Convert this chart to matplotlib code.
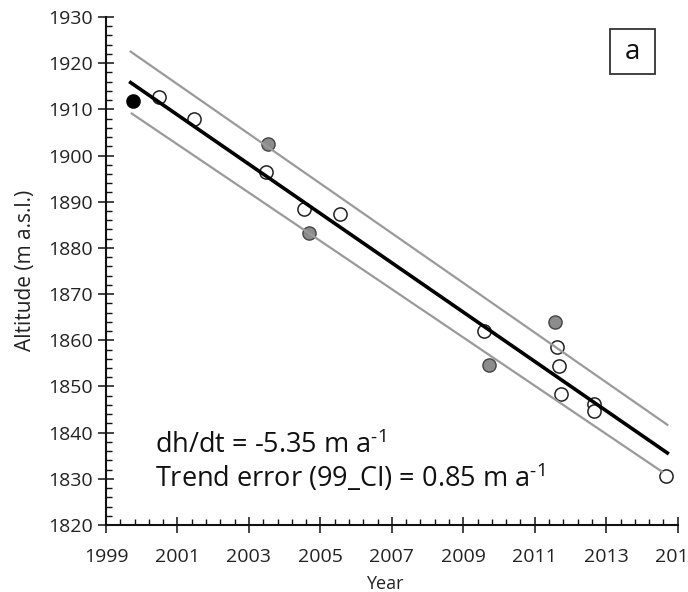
import matplotlib.pyplot as plt
import matplotlib.patches as mpatches
import numpy as np
from matplotlib.ticker import FixedLocator

plt.rcParams['font.family'] = ['Open Sans', 'DejaVu Sans']
plt.rcParams['mathtext.default'] = 'regular'

black_year = [1999.76]
black_alt = [1911.8]

grey_year = [2003.52, 2004.69, 2009.71, 2011.58]
grey_alt = [1902.4, 1883.2, 1854.6, 1864.0]

open_year = [2000.49, 2001.45, 2003.47, 2004.55, 2005.55, 2009.57,
             2011.61, 2011.67, 2011.72, 2012.65, 2012.67, 2014.66]
open_alt = [1912.7, 1907.9, 1896.4, 1888.4, 1887.3, 1861.9,
            1858.6, 1854.4, 1848.3, 1846.3, 1844.7, 1830.6]

# trend line and 99% confidence bounds (end points)
trend_year = [1999.69, 2014.71]
trend_alt = [1915.8, 1835.6]
upper_year = [1999.69, 2014.71]
upper_alt = [1922.5, 1841.7]
lower_year = [1999.72, 2014.57]
lower_alt = [1909.1, 1831.5]

year_ticks = [1999, 2001, 2003, 2005, 2007, 2009, 2011, 2013, 2015]

slope_text = 'dh/dt = -5.35 m a$^{\u2010' + '1}$'
error_text = 'Trend error (99_CI) = 0.85 m a$^{\u2010' + '1}$'

W, H = 688, 592
fig = plt.figure(figsize=(W / 100, H / 100), dpi=100)
ax = fig.add_axes([106 / W, 1 - 525 / H, (677.7 - 106) / W, (525 - 17) / H])

ax.plot(upper_year, upper_alt, color='#9a9a9a', lw=1.6, zorder=3)
ax.plot(lower_year, lower_alt, color='#9a9a9a', lw=1.6, zorder=3)
ax.plot(trend_year, trend_alt, color='black', lw=2.6, zorder=4)

ax.plot(open_year, open_alt, 'o', ms=9.5, mfc='white', mec='#222222', mew=1.1, zorder=2)
ax.plot(grey_year, grey_alt, 'o', ms=9.5, mfc='#8c8c8c', mec='#444444', mew=1.0, zorder=2)
ax.plot(black_year, black_alt, 'o', ms=9.5, mfc='black', mec='black', mew=1.0, zorder=2)

ax.set_xlim(1999, 2015)
ax.set_ylim(1820, 1930)
ax.xaxis.set_major_locator(FixedLocator(year_ticks))
ax.xaxis.set_minor_locator(FixedLocator(np.arange(1999, 2015.01, 0.4)))
ax.yaxis.set_major_locator(FixedLocator(np.arange(1820, 1931, 10)))
ax.yaxis.set_minor_locator(FixedLocator(np.arange(1820, 1931, 2)))

for s in ['top', 'right']:
    ax.spines[s].set_visible(False)
for s in ['left', 'bottom']:
    ax.spines[s].set_linewidth(1.5)
    ax.spines[s].set_color('#111111')

ax.tick_params(which='major', direction='inout', length=11, width=1.1, labelsize=14, colors='#111111')
ax.tick_params(which='minor', direction='in', length=4.5, width=1.0, colors='#111111')
ax.tick_params(axis='x', which='major', pad=11)
ax.tick_params(axis='y', which='major', pad=4)
for lab in ax.get_xticklabels() + ax.get_yticklabels():
    lab.set_color('#222222')

fig.text(385 / W, 1 - 584 / H, 'Year', fontsize=13, ha='center', va='center', color='#222222')
fig.text(26 / W, 1 - 270 / H, 'Altitude (m a.s.l.)', rotation=90, fontsize=15,
         ha='center', va='center', color='#222222')

ax.text(2000.37, 1835.6, slope_text, fontsize=19.5, va='baseline', color='#111111')
ax.text(2000.37, 1828.2, error_text, fontsize=19.5, va='baseline', color='#111111')

box = mpatches.Rectangle((610 / W, 1 - 74 / H), 45 / W, 45 / H, transform=fig.transFigure,
                         fill=False, ec='#333333', lw=1.3)
fig.patches.append(box)
fig.text(632.5 / W, 1 - 52 / H, 'a', fontsize=20, ha='center', va='center', color='#111111')

fig.savefig('out.png', dpi=100)
